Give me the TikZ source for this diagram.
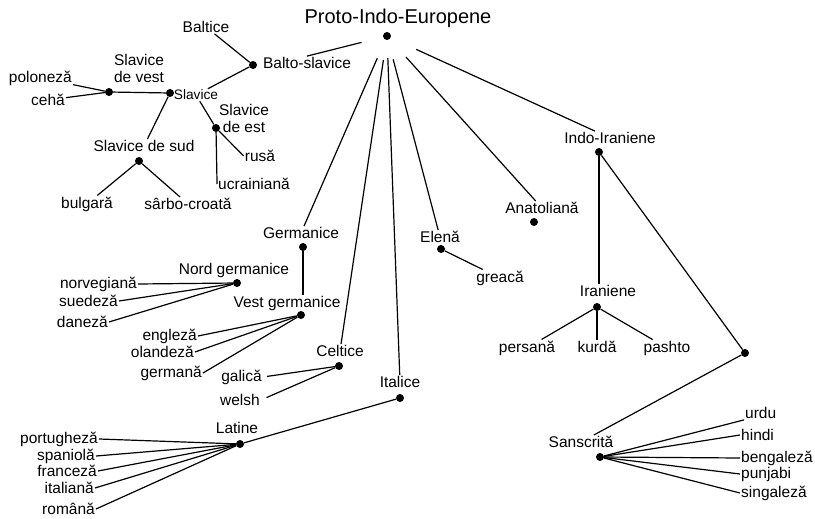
\documentclass[tikz,border=0pt]{standalone}
\usepackage{fontspec}
\setmainfont{Liberation Sans}
\usetikzlibrary{positioning}

\begin{document}
\begin{tikzpicture}[x=1pt, y=-1pt,
        dot/.style = {circle, fill, inner sep=0pt, minimum size=8pt},
        lbl/.style = {inner sep=1pt, font=\fontsize{15.5}{17}\selectfont},
        tree/.style = {draw, line width=1.2pt}]
    \useasboundingbox (0,0) rectangle (815,519);

    % root
    \node (title) [lbl, font=\fontsize{20}{24}\selectfont] at (398,18) {Proto-Indo-Europene};
    \node (root) [dot] at (387,36) {};

    % balto-slavic branch
    \node (balt)  [lbl] at (206,27) {Baltice};
    \node (bslab) [lbl] at (307,63) {Balto-slavice};
    \node (bsdot) [dot] at (253,65) {};
    \node (slav)  [lbl, font=\fontsize{13.7}{16}\selectfont] at (196,95) {Slavice};
    \node (sdot)  [dot] at (170,93) {};
    \node (wlab)  [lbl, align=center] at (139,68) {Slavice\\de vest};
    \node (wdot)  [dot] at (109,92) {};
    \node (pol)   [lbl, anchor=east] at (73,78) {poloneză};
    \node (ceha)  [lbl, anchor=east] at (66,100) {cehă};
    \node (sslab) [lbl] at (144,146) {Slavice de sud};
    \node (sddot) [dot] at (139,161) {};
    \node (bulg)  [lbl] at (87,204) {bulgară};
    \node (sarb)  [lbl] at (188,204) {sârbo-croată};
    \node (elab)  [lbl, align=center] at (244,118) {Slavice\\de est};
    \node (edot)  [dot] at (216,128) {};
    \node (rusa)  [lbl] at (260,156) {rusă};
    \node (ucr)   [lbl] at (254,184) {ucrainiană};

    % germanic branch
    \node (germ)  [lbl] at (301,233) {Germanice};
    \node (gdot)  [dot] at (303,247) {};
    \node (nglab) [lbl] at (234,270) {Nord germanice};
    \node (ngdot) [dot] at (237,283) {};
    \node (norv)  [lbl, anchor=east] at (138,284) {norvegiană};
    \node (sued)  [lbl, anchor=east] at (119,301) {suedeză};
    \node (dane)  [lbl, anchor=east] at (109,322) {daneză};
    \node (vglab) [lbl] at (287,303) {Vest germanice};
    \node (vgdot) [dot] at (301,315) {};
    \node (engl)  [lbl, anchor=east] at (198,336) {engleză};
    \node (olan)  [lbl, anchor=east] at (195,352) {olandeză};
    \node (germa) [lbl, anchor=east] at (203,373) {germană};

    % celtic and italic branches
    \node (celt)  [lbl] at (340,351) {Celtice};
    \node (cdot)  [dot] at (339,366) {};
    \node (gali)  [lbl, anchor=east] at (263,377) {galică};
    \node (wels)  [lbl, anchor=east] at (261,400) {welsh};
    \node (ital)  [lbl] at (400,382) {Italice};
    \node (idot)  [dot] at (400,398) {};
    \node (lat)   [lbl] at (237,428) {Latine};
    \node (ldot)  [dot] at (240,444) {};
    \node (port)  [lbl, anchor=east] at (99,439) {portugheză};
    \node (span)  [lbl, anchor=east] at (96,456) {spaniolă};
    \node (fran)  [lbl, anchor=east] at (98,471) {franceză};
    \node (itln)  [lbl, anchor=east] at (95,488) {italiană};
    \node (roma)  [lbl, anchor=east] at (96,509) {română};

    % hellenic and anatolian branches
    \node (elen)  [lbl] at (440,237) {Elenă};
    \node (eldot) [dot] at (441,249) {};
    \node (grea)  [lbl] at (500,278) {greacă};
    \node (anat)  [lbl] at (542,208) {Anatoliană};
    \node (adot)  [dot] at (534,222) {};

    % indo-iranian branch
    \node (iilab) [lbl] at (610,138) {Indo-Iraniene};
    \node (iidot) [dot] at (599,152) {};
    \node (iran)  [lbl] at (608,291) {Iraniene};
    \node (irdot) [dot] at (597,307) {};
    \node (pers)  [lbl] at (527,348) {persană};
    \node (kurd)  [lbl] at (597,347) {kurdă};
    \node (pash)  [lbl] at (667,348) {pashto};
    \node (indot) [dot] at (745,353) {};
    \node (sans)  [lbl] at (581,442) {Sanscrită};
    \node (sadot) [dot] at (600,457) {};
    \node (urdu)  [lbl, anchor=west] at (744,413) {urdu};
    \node (hind)  [lbl, anchor=west] at (740,435) {hindi};
    \node (beng)  [lbl, anchor=west] at (740,458) {bengaleză};
    \node (punj)  [lbl, anchor=west] at (740,474) {punjabi};
    \node (sing)  [lbl, anchor=west] at (740,493) {singaleză};

    \path [tree]
        (root) edge [shorten <=22pt] (bslab.north)
        (root) edge [shorten <=20pt] (germ)
        (root) edge [shorten <=20pt] (celt)
        (root) edge [shorten <=18pt] (ital)
        (root) edge [shorten <=20pt] (elen)
        (root) edge [shorten <=24pt] (anat)
        (root) edge [shorten <=28pt] (iilab);

    \path [tree]
        (balt) edge (bsdot)
        (bsdot) edge (slav)
        (wdot) edge (sdot)
        (pol) edge (wdot)
        (ceha) edge (wdot)
        (sslab) edge (sdot)
        (sddot) edge (bulg)
        (sddot) edge (sarb)
        (slav) edge (edot)
        (edot) edge (rusa.west)
        (edot) edge (ucr.west);

    \path [tree]
        (gdot) edge (gdot |- vglab.north)
        (norv.east) edge (ngdot)
        (sued.east) edge (ngdot)
        (dane.east) edge (ngdot)
        (engl.east) edge (vgdot)
        (olan.east) edge (vgdot)
        (germa.east) edge (vgdot);

    \path [tree]
        (gali.east) edge [shorten <=4pt] (cdot)
        (wels.east) edge [shorten <=6pt] (cdot)
        (ldot) edge (idot)
        (port.east) edge (ldot)
        (span.east) edge (ldot)
        (fran.east) edge (ldot)
        (itln.east) edge (ldot)
        (roma.east) edge (ldot);

    \path [tree]
        (eldot) edge (grea)
        (iidot) edge (iidot |- iran.north)
        (iidot) edge (indot)
        (irdot) edge (pers)
        (irdot) edge (kurd)
        (irdot) edge (pash)
        (indot) edge (sans)
        (sadot) edge (urdu.south west)
        (sadot) edge (hind.west)
        (sadot) edge (beng.west)
        (sadot) edge (punj.west)
        (sadot) edge (sing.west);
\end{tikzpicture}
\end{document}
